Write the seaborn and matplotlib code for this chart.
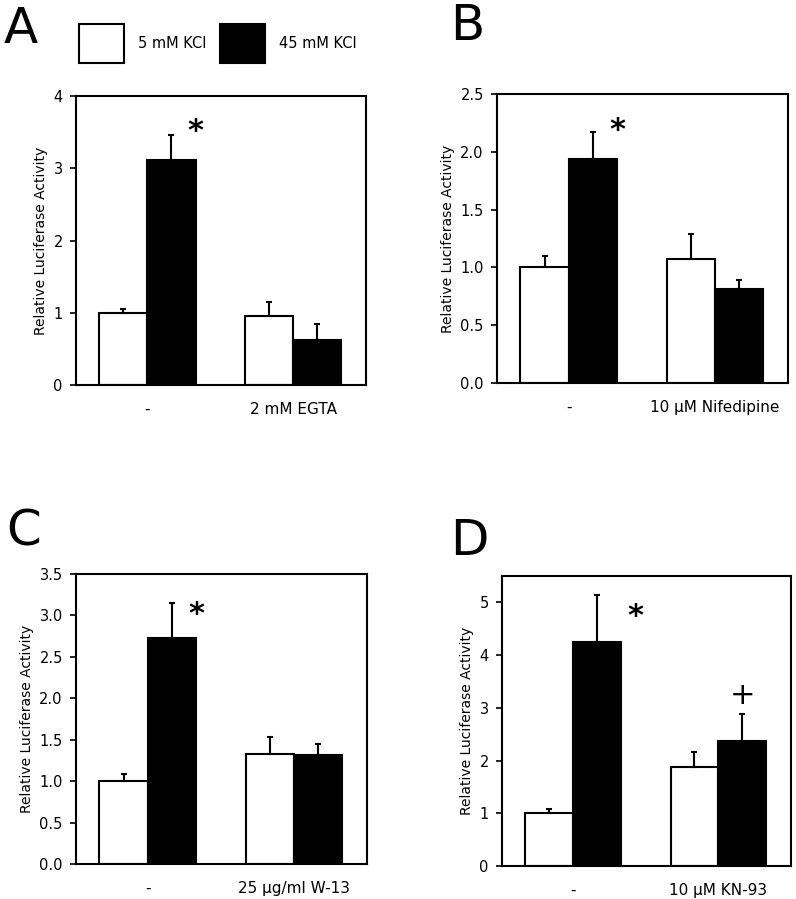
import pandas as pd
import matplotlib.pyplot as plt
import seaborn as sns

sns.set_style("ticks")
plt.rcParams['font.family'] = ['DejaVu Sans']
plt.rcParams.update({'text.color': 'black', 'axes.labelcolor': 'black',
                     'xtick.color': 'black', 'ytick.color': 'black',
                     'axes.edgecolor': 'black'})

kcl_levels = ["5 mM KCl", "45 mM KCl"]
kcl_colors = {"5 mM KCl": "white", "45 mM KCl": "black"}

# A - EGTA
cond_A = ["-", "2 mM EGTA"]
low_A = [1.00, 0.95]
low_err_A = [0.05, 0.20]
high_A = [3.11, 0.63]
high_err_A = [0.35, 0.22]

# B - Nifedipine
cond_B = ["-", "10 µM Nifedipine"]
low_B = [1.00, 1.07]
low_err_B = [0.10, 0.22]
high_B = [1.94, 0.81]
high_err_B = [0.23, 0.08]

# C - W-13
cond_C = ["-", "25 µg/ml W-13"]
low_C = [1.00, 1.33]
low_err_C = [0.09, 0.20]
high_C = [2.73, 1.32]
high_err_C = [0.42, 0.13]

# D - KN-93
cond_D = ["-", "10 µM KN-93"]
low_D = [1.01, 1.87]
low_err_D = [0.08, 0.30]
high_D = [4.25, 2.38]
high_err_D = [0.88, 0.50]


def panel(ax, cond, low, low_err, high, high_err, ymax, yticks, fmt, legend=False):
    df = pd.DataFrame({
        'condition': cond * 2,
        'KCl': [kcl_levels[0]] * len(cond) + [kcl_levels[1]] * len(cond),
        'activity': low + high,
    })
    sns.barplot(data=df, x='condition', y='activity', hue='KCl', order=cond,
                hue_order=kcl_levels, palette=kcl_colors, edgecolor='black',
                linewidth=1.5, width=0.66, gap=0, saturation=1, errorbar=None,
                legend=legend, ax=ax)
    # upper error bars only
    for bars, errs in zip(ax.containers, [low_err, high_err]):
        xs = [b.get_x() + b.get_width() / 2 for b in bars]
        ys = [b.get_height() for b in bars]
        ax.errorbar(xs, ys, yerr=[[0] * len(errs), errs], fmt='none', ecolor='black',
                    elinewidth=1.5, capsize=2.5, capthick=1.5, zorder=3)
    ax.set_xlim(-0.49, 1.5)
    ax.set_ylim(0, ymax)
    ax.set_yticks(yticks)
    ax.set_yticklabels([fmt % t for t in yticks])
    ax.set_xlabel("")
    ax.set_ylabel("Relative Luciferase Activity", fontsize=10)
    ax.tick_params(axis='y', direction='out', length=4.5, width=1.2, labelsize=10.5, pad=5)
    ax.tick_params(axis='x', length=0, labelsize=11, pad=12)
    for s in ax.spines.values():
        s.set_linewidth(1.5)


def mark(ax, x, y, sym):
    if sym == "*":
        ax.annotate(sym, (x, y), xytext=(0, -3.5), textcoords='offset points',
                    fontsize=22, fontweight='bold', ha='center', va='center')
    else:
        ax.annotate(sym, (x, y), xytext=(0, -1.5), textcoords='offset points',
                    fontsize=22, ha='center', va='center')


fig = plt.figure(figsize=(7.96, 8.99), dpi=100)
axA = fig.add_axes([0.0955, 0.5717, 0.3643, 0.3215])
axB = fig.add_axes([0.6244, 0.5740, 0.3656, 0.3215])
axC = fig.add_axes([0.0955, 0.0389, 0.3656, 0.3226])
axD = fig.add_axes([0.6307, 0.0367, 0.3631, 0.3226])

panel(axA, cond_A, low_A, low_err_A, high_A, high_err_A, 4, [0, 1, 2, 3, 4], "%d", legend=True)
panel(axB, cond_B, low_B, low_err_B, high_B, high_err_B, 2.5, [0, 0.5, 1, 1.5, 2, 2.5], "%.1f")
panel(axC, cond_C, low_C, low_err_C, high_C, high_err_C, 3.5, [0, 0.5, 1, 1.5, 2, 2.5, 3, 3.5], "%.1f")
panel(axD, cond_D, low_D, low_err_D, high_D, high_err_D, 5.5, [0, 1, 2, 3, 4, 5], "%d")

# significance marks
mark(axA, 0.33, 3.57, "*")
mark(axB, 0.33, 2.23, "*")
mark(axC, 0.335, 3.07, "*")
mark(axD, 0.43, 4.82, "*")
mark(axD, 1.165, 3.28, "+")

sns.move_legend(axA, 'upper left', bbox_to_anchor=(0.099, 0.973),
                bbox_transform=fig.transFigure, ncol=2, frameon=False, title=None,
                fontsize=10.5, handlelength=3.08, handleheight=3.73, handletextpad=1.0,
                columnspacing=0.9, borderpad=0, borderaxespad=0)

fig.text(0.004, 1 - 43 / 899, "A", fontsize=36, va='baseline', ha='left')
fig.text(0.565, 1 - 40 / 899, "B", fontsize=36, va='baseline', ha='left')
fig.text(0.008, 1 - 546 / 899, "C", fontsize=36, va='baseline', ha='left')
fig.text(0.565, 1 - 555 / 899, "D", fontsize=36, va='baseline', ha='left')

fig.savefig("out.png", dpi=100)
